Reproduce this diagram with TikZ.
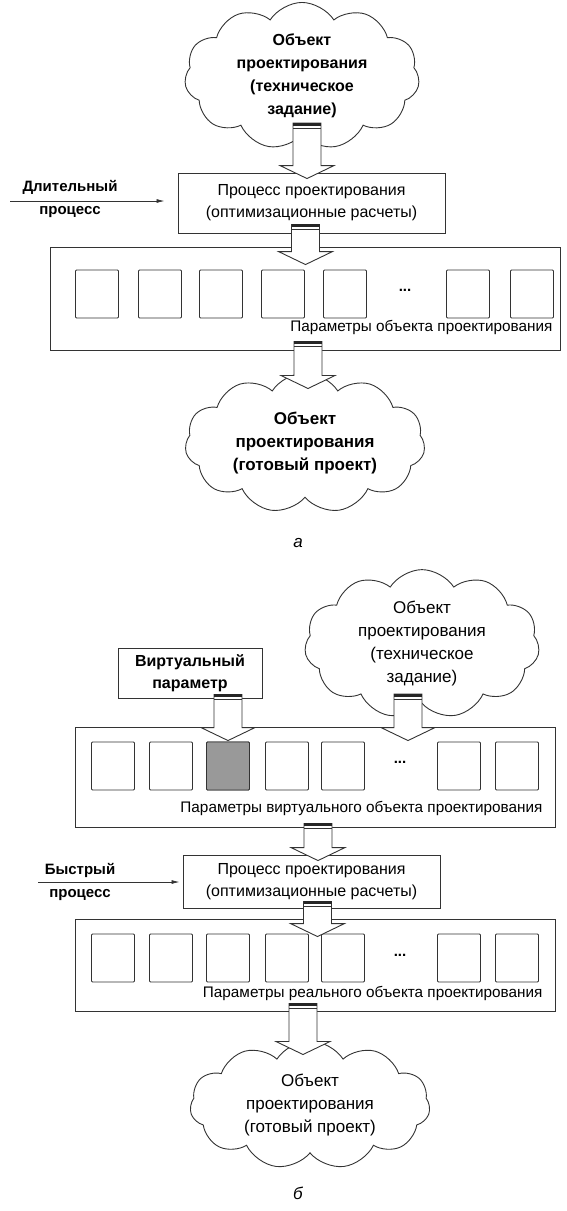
\documentclass[tikz,border=0pt]{standalone}
\usepackage{fontspec}
\setmainfont{Liberation Sans}
\usepackage{tikz}
\usetikzlibrary{arrows.meta, positioning, calc, shapes.symbols}

% block arrow with striped tail: #1 tail point, #2 tip point
\newcommand{\bigarrow}[2]{%
    \path #1 coordinate (ba-t) #2 coordinate (ba-h);
    \draw[stroke, fill=white] let \p1=(ba-t), \p2=(ba-h) in
        (\x1-14pt,\y1) -- (\x1+14pt,\y1) -- (\x1+14pt,\y2+13pt) -- (\x1+27pt,\y2+13pt)
        -- (\x1,\y2) -- (\x1-27pt,\y2+13pt) -- (\x1-14pt,\y2+13pt) -- cycle;
    \fill[black!85] let \p1=(ba-t) in (\x1-14pt,\y1) rectangle (\x1+14pt,\y1-2.5pt);
    \draw[stroke] let \p1=(ba-t) in (\x1-14pt,\y1-5pt) -- (\x1+14pt,\y1-5pt);
}

\begin{document}
\begin{tikzpicture}[x=1pt, y=-1pt,
    stroke/.style={draw=black!80, line width=0.9pt},
    box/.style={stroke, rectangle, inner sep=0pt, align=center},
    param/.style={stroke, rectangle, rounded corners=1pt, minimum width=43pt, minimum height=48pt},
    obj/.style={stroke, cloud, cloud puffs=11, cloud puff arc=115, aspect=1.8, align=center, inner sep=0pt},
    plabel/.style={font=\fontsize{15.3}{17}\selectfont},
    side/.style={draw=black!80, line width=0.8pt, -{Latex[length=8pt, width=4pt]}}]
    \useasboundingbox (0,0) rectangle (567,1211);

    % а) длительный процесс
    \node[obj, minimum width=235pt, minimum height=128pt, font=\fontsize{16}{23}\selectfont\bfseries] (objA) at (302,76) {Объект\\проектирования\\(техническое\\задание)};
    \node[box, minimum width=267pt, minimum height=60pt, font=\fontsize{16}{22}\selectfont] (procA) at (311.5,203) {Процесс проектирования\\(оптимизационные расчеты)};
    \node[align=center, font=\fontsize{15}{23}\selectfont\bfseries] (slowA) at (70,199) {Длительный\\процесс};
    \coordinate (slowS) at (10,201);
    \node[box, minimum width=510pt, minimum height=103pt] (parA) at (305,298.5) {};
    \foreach \x [count=\i] in {97,160,221,283,345,468,532}
        \node[param] (pa\i) at (\x,294) {};
    \node[font=\fontsize{15}{15}\selectfont\bfseries] (dotsA) at (405,290) {...};
    \node[plabel, anchor=east] (labA) at (556,327) {Параметры объекта проектирования};
    \node[obj, minimum width=240pt, minimum height=125pt, font=\fontsize{17}{23}\selectfont\bfseries] (objB) at (305,443) {Объект\\проектирования\\(готовый проект)};
    \node[font=\fontsize{17}{17}\selectfont\itshape] (capA) at (298,543) {а};

    \draw[side, shorten >=13pt] (slowS) -- (slowS -| procA.west);
    \bigarrow{($(objA.south)+(5,-12)$)}{($(procA.north)+(0,6)$)}
    \bigarrow{($(procA.south)+(-6,-9)$)}{($(parA.north)+(0,18)$)}
    \bigarrow{($(parA.south)+(3,-9)$)}{($(objB.north)+(0,16)$)}

    % б) быстрый процесс
    \node[obj, minimum width=235pt, minimum height=125pt, font=\fontsize{17}{23}\selectfont] (objC) at (422,644) {Объект\\проектирования\\(техническое\\задание)};
    \node[box, minimum width=144pt, minimum height=50pt, font=\fontsize{16}{22}\selectfont\bfseries] (virtB) at (190,673) {Виртуальный\\параметр};
    \node[box, minimum width=480pt, minimum height=100pt] (parB) at (315,777) {};
    \foreach \x [count=\i] in {113,171,228,287,343,459,517}
        \node[param] (pb\i) at (\x,766) {};
    \fill[black!40] (pb3.south west) rectangle (pb3.north east);
    \node[param] at (pb3) {};
    \node[font=\fontsize{15}{15}\selectfont\bfseries] (dotsB) at (400,762) {...};
    \node[plabel, anchor=east] (labB) at (546,808) {Параметры виртуального объекта проектирования};
    \node[box, minimum width=257pt, minimum height=53pt, font=\fontsize{16}{22}\selectfont] (procB) at (311.5,881.5) {Процесс проектирования\\(оптимизационные расчеты)};
    \node[align=center, font=\fontsize{15}{23}\selectfont\bfseries] (fastB) at (80,882) {Быстрый\\процесс};
    \coordinate (fastS) at (38,882);
    \node[box, minimum width=480pt, minimum height=92pt] (parC) at (315,965) {};
    \foreach \x [count=\i] in {113,171,228,287,343,459,517}
        \node[param] (pc\i) at (\x,958) {};
    \node[font=\fontsize{15}{15}\selectfont\bfseries] (dotsC) at (400,955) {...};
    \node[plabel, anchor=east] (labC) at (546,993) {Параметры реального объекта проектирования};
    \node[obj, minimum width=240pt, minimum height=115pt, font=\fontsize{17}{23}\selectfont] (objD) at (310,1105) {Объект\\проектирования\\(готовый проект)};
    \node[font=\fontsize{17}{17}\selectfont\itshape] (capB) at (298,1193) {б};

    \draw[side, shorten >=3pt] (fastS) -- (fastS -| procB.west);
    \bigarrow{($(virtB.south -| pb3.north)+(0,-4)$)}{($(pb3.north)+(0,-1)$)}
    \bigarrow{($(objC.south)+(-14,-10)$)}{($(parB.north)+(0,14)$)}
    \bigarrow{($(parB.south)+(3,-4)$)}{($(procB.north)+(0,6)$)}
    \bigarrow{($(procB.south)+(6,-7)$)}{($(parC.north)+(0,18)$)}
    \bigarrow{($(parC.south)+(-12,-8)$)}{($(objD.north)+(0,14)$)}
\end{tikzpicture}
\end{document}
